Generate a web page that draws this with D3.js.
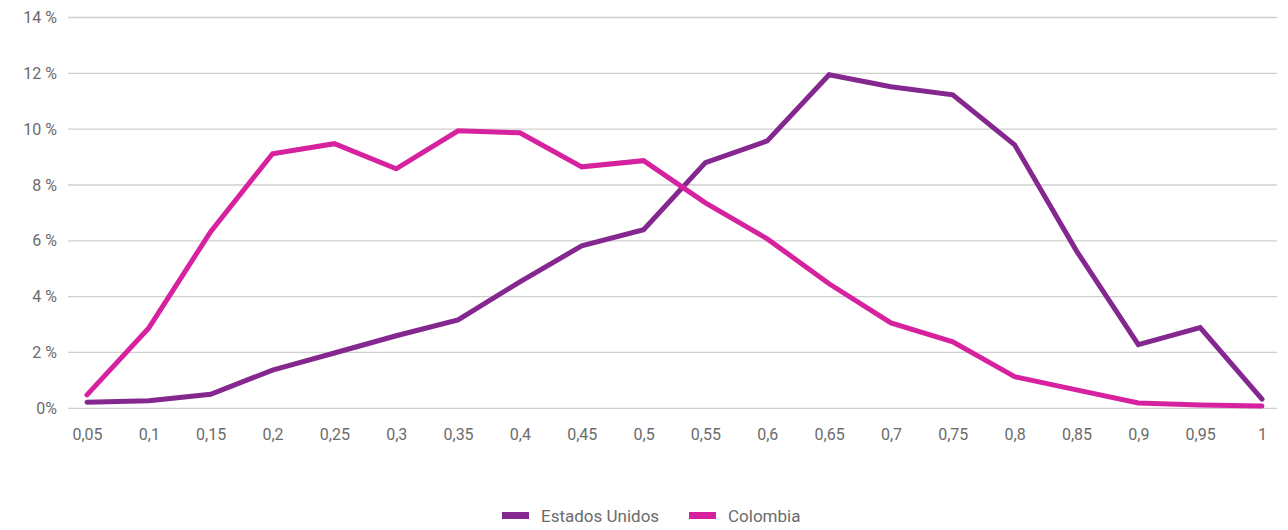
<!DOCTYPE html>
<html><head><meta charset="utf-8">
<script src="https://cdn.jsdelivr.net/npm/d3@7"></script>
<style>
html,body{margin:0;padding:0;background:#fff;}
svg text{font-family:"Roboto","DejaVu Sans Condensed",sans-serif;}
</style></head>
<body><svg id="c" width="1288" height="530"></svg>
<script>
const categories = ["0,05","0,1","0,15","0,2","0,25","0,3","0,35","0,4","0,45","0,5","0,55","0,6","0,65","0,7","0,75","0,8","0,85","0,9","0,95","1"];
const estadosUnidos = [0.22,0.27,0.5,1.37,1.98,2.6,3.17,4.53,5.82,6.4,8.8,9.58,11.95,11.52,11.23,9.44,5.64,2.28,2.89,0.33];
const colombia = [0.48,2.88,6.33,9.12,9.48,8.58,9.94,9.87,8.65,8.87,7.36,6.07,4.46,3.06,2.38,1.13,0.66,0.19,0.12,0.08];
const yTicks = [0,2,4,6,8,10,12,14];
const yTickLabels = ["0%","2 %","4 %","6 %","8 %","10 %","12 %","14 %"];
const seriesNames = ["Estados Unidos","Colombia"];
const seriesColors = ["#84278f","#d6229f"];

(function(){
const svg = d3.select("#c");
const mLeft = 68, mRight = 1277, mTop = 17.5, mBottom = 408.3;
const x = d3.scalePoint().domain(categories).range([87, 1262]).padding(0);
const y = d3.scaleLinear().domain([0,14]).range([mBottom, mTop]);

const grid = svg.append("g");
yTicks.forEach((t,i)=>{
  grid.append("line").attr("x1",mLeft).attr("x2",mRight).attr("y1",y(t)).attr("y2",y(t))
    .attr("stroke","#cfcfcf").attr("stroke-width",1.3);
  grid.append("text").attr("x",57).attr("y",y(t)).attr("dy","0.35em").attr("text-anchor","end")
    .attr("fill","#6b6b6b").attr("font-size",16).text(yTickLabels[i]);
});
const xa = svg.append("g").attr("transform",`translate(0,${mBottom})`)
  .call(d3.axisBottom(x).tickSize(0).tickPadding(20));
xa.select(".domain").remove();
xa.selectAll("text").attr("fill","#6b6b6b").attr("font-size",16).attr("font-family",null);

const line = d3.line().x((d,i)=>x(categories[i])).y(d=>y(d));
[estadosUnidos, colombia].forEach((s,i)=>{
  svg.append("path").datum(s).attr("d",line).attr("fill","none")
    .attr("stroke",seriesColors[i]).attr("stroke-width",5).attr("stroke-linejoin","miter")
    .attr("stroke-linecap","round");
});
const lg = svg.append("g");
const legendX = [502, 689];
seriesNames.forEach((n,i)=>{
  lg.append("rect").attr("x",legendX[i]).attr("y",512).attr("width",27).attr("height",7).attr("fill",seriesColors[i]);
  lg.append("text").attr("x",legendX[i]+39).attr("y",516).attr("dy","0.35em").attr("fill","#6b6b6b")
    .attr("font-size",17).text(n);
});
})();
</script></body></html>
